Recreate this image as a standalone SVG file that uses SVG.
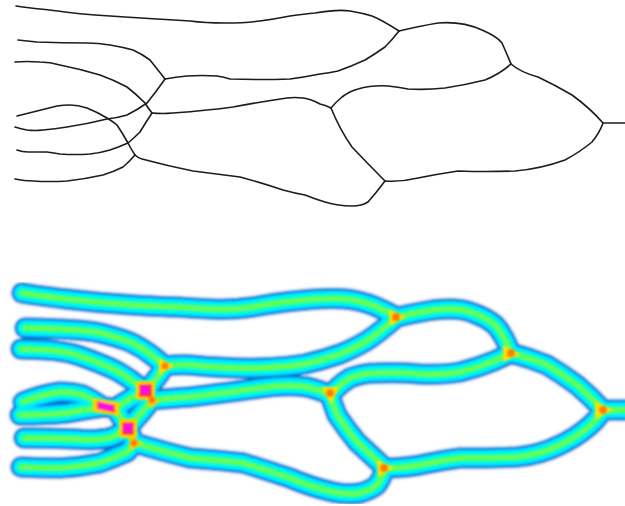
<svg xmlns="http://www.w3.org/2000/svg" width="625" height="506" viewBox="0 0 625 506">
<style>
.top{fill:none;stroke:#1c1c1c;stroke-width:1.6;stroke-linejoin:round;stroke-linecap:round}
#tubes{fill:none;stroke-linecap:round;stroke-linejoin:round}
.b0{stroke:#d4e6fa;stroke-width:25}
.b1{stroke:#0568c4;stroke-width:21}
.b2{stroke:#0096f2;stroke-width:18.5}
.b3{stroke:#00e8ff;stroke-width:15.5}
.b4{stroke:#00ffd8;stroke-width:10}
.b5{stroke:#20ff90;stroke-width:7}
.b6{stroke:#70ff40;stroke-width:3.4}
</style>
<defs>
<filter id="soft" x="-5%" y="-5%" width="110%" height="110%"><feGaussianBlur stdDeviation="1"/></filter>
<filter id="soft2" x="-50%" y="-50%" width="200%" height="200%"><feGaussianBlur stdDeviation="1"/></filter>
<path id="tubes" d="M22 293 Q33 295 66 299 Q100 303 133 305 Q167 307 178 307 Q190 308 211 309 Q233 310 253 307 Q273 303 305 300 Q337 297 353 300 Q370 303 383 310 L397 317
M25 328 Q83 329 100 333 Q117 337 130 342 Q143 348 154 357 L165 366
M21 349 Q60 349 80 356 Q100 363 115 370 Q130 378 145 391
M165 366 Q155 382 145 391 L152 400
M165 366 Q180 364 190 365 Q233 369 260 368 Q287 367 305 364 Q323 360 340 354 Q357 347 368 340 Q380 332 397 317
M152 400 Q175 398 190 397 Q233 392 260 388 Q287 384 307 387 Q320 390 330 395
M330 395 Q340 384 350 378 Q363 373 377 373 Q400 372 420 374 Q443 375 460 372 Q477 368 494 361 L511 353
M397 317 Q415 313 433 310 Q460 307 473 313 Q487 318 495 325 Q503 333 511 353
M511 353 Q530 358 547 365 Q562 374 577 385 Q590 396 603 410 L625 410
M603 410 Q597 420 587 428 Q575 438 560 445 Q540 455 517 457 Q488 458 460 458 Q445 460 430 463 Q408 468 385 468
M330 395 Q333 405 337 415 Q347 430 357 442 Q371 455 385 468
M23 402 Q40 395 60 392 Q72 392 83 395 Q92 399 103 407 L115 408
M20 415 Q45 415 67 413 Q82 410 103 407
M115 408 Q130 398 145 391
M115 408 Q121 418 128 428 L135 443
M152 400 Q140 415 128 428
M24 438 Q50 438 75 439 Q100 441 112 437 Q120 434 128 428
M135 443 Q165 452 190 458 Q217 460 243 463 Q266 470 290 478 Q311 487 333 492 Q347 495 360 493 Q371 490 377 485 Q382 478 385 468
M135 443 Q131 448 127 452 Q113 458 100 463 Q80 467 60 468 Q40 468 21 467"/>
</defs>
<rect width="625" height="506" fill="#ffffff"/>
<g id="connectors" class="top">
<path d="M16 6 Q30 8 40 9 Q50 10 65 12 Q80 14 95 15 Q110 16 125 17 Q140 18 157 19 Q175 20 190 21 Q205 23 225 23 Q245 23 260 21 Q275 19 290 16 Q305 14 315 13 Q338 9 350 11 Q362 13 372 16 Q382 20 399 31"/>
<path d="M399 31 Q420 26 438 23 Q462 21 482 30 Q498 37 502 43 Q506 52 511 64"/>
<path d="M511 64 Q520 72 538 77 Q555 85 572 95 Q590 108 603 123 L625 123"/>
<path d="M603 123 Q600 132 592 142 Q580 152 565 160 Q540 169 515 171 Q487 172 458 171 Q438 174 418 178 Q402 182 385 181"/>
<path d="M385 181 Q368 164 352 147 Q340 130 331 108"/>
<path d="M331 108 Q336 102 342 97 Q350 91 358 89 Q372 85 388 86 Q398 87 408 89 Q426 90 445 88 Q465 85 485 80 Q500 74 511 64"/>
<path d="M331 108 Q325 105 320 104 Q311 99 303 98 Q295 97 287 98 Q260 102 233 107 Q220 109 207 110 Q190 112 173 113 Q162 114 152 113"/>
<path d="M152 113 Q148 108 145 103 Q136 94 127 87 Q114 80 100 75 Q80 69 60 65 Q50 62 40 62 Q27 61 15 62"/>
<path d="M152 113 Q146 122 140 132 Q134 138 128 143 Q119 147 110 150 Q100 153 90 154 Q75 155 60 154 Q54 153 47 152 Q37 152 28 152 Q22 152 17 150"/>
<path d="M165 79 Q158 70 150 60 Q142 54 133 50 Q122 47 110 45 Q98 43 87 43 Q62 43 37 42 Q27 41 18 40"/>
<path d="M165 79 Q156 92 147 103 Q137 110 127 115 Q117 118 107 119 Q87 124 67 127 Q55 129 43 130 Q35 131 27 130 Q21 129 15 127"/>
<path d="M165 79 Q176 77 187 76 Q202 75 217 76 Q224 77 230 79 Q260 80 290 79 Q305 77 320 74 Q329 73 338 71 Q352 66 365 60 Q375 54 385 47 Q392 40 399 31"/>
<path d="M135 155 Q131 149 128 143 Q123 134 117 125 Q112 121 107 118 Q97 112 87 108 Q78 105 70 105 Q63 105 57 106 Q37 111 17 116"/>
<path d="M135 155 Q129 162 123 167 Q113 172 103 175 Q85 179 67 181 Q50 182 33 181 Q24 181 15 179"/>
<path d="M135 155 Q138 158 142 159 Q168 166 193 171 Q216 174 240 177 Q262 183 283 190 Q294 193 305 195 Q315 199 325 202 Q338 206 352 206 Q362 206 368 202 Q376 193 385 181"/>
</g>
<g id="heatmap">
<g filter="url(#soft)">
<use href="#tubes" class="b0" opacity="0.6"/>
<use href="#tubes" class="b1"/>
<use href="#tubes" class="b2"/>
<use href="#tubes" class="b3"/>
<use href="#tubes" class="b4"/>
<use href="#tubes" class="b5"/>
<use href="#tubes" class="b6"/>
</g>
<g id="junction-j1" filter="url(#soft2)"><path d="M389 309 L406 317 L390 326Z" fill="#ffe000"/><circle cx="396" cy="317" r="4" fill="#ff7a00"/></g>
<g id="junction-j2" filter="url(#soft2)"><path d="M503 345 L520 354 L503 362Z" fill="#ffe000"/><circle cx="511" cy="353" r="4" fill="#ff7a00"/></g>
<g id="junction-j3" filter="url(#soft2)"><path d="M595 401 L613 410 L595 419Z" fill="#ffe000"/><circle cx="603" cy="410" r="4" fill="#ff7a00"/></g>
<g id="junction-j4" filter="url(#soft2)"><path d="M377 460 L394 468 L378 477Z" fill="#ffe000"/><circle cx="384" cy="468" r="4" fill="#ff7a00"/></g>
<g id="junction-j5" filter="url(#soft2)"><path d="M321 387 L339 387 L331 404Z" fill="#ffe000"/><circle cx="330" cy="393" r="4" fill="#ff7a00"/></g>
<g id="junction-j7" filter="url(#soft2)"><path d="M159 358 L174 366 L159 375Z" fill="#ffe000"/><circle cx="165" cy="366" r="3.6" fill="#ff7a00"/></g>
<g id="junction-r1" filter="url(#soft2)"><rect x="136" y="381" width="19" height="19" rx="3" fill="#ffd000"/><path d="M146 395 L160 401 L150 409Z" fill="#ffd000"/><rect x="139" y="384" width="13" height="13" rx="2" fill="#ff2a2a"/><circle cx="152" cy="400" r="3.4" fill="#ff7a00"/><circle cx="145" cy="390" r="4.8" fill="#ff10e0"/></g>
<g id="junction-r2" filter="url(#soft2)"><rect x="119" y="419" width="18" height="19" rx="3" fill="#ffd000"/><path d="M129 436 L143 443 L130 451Z" fill="#ffd000"/><rect x="122" y="422" width="12" height="13" rx="2" fill="#ff2a2a"/><circle cx="134" cy="443" r="3.4" fill="#ff7a00"/><circle cx="128" cy="428" r="4.8" fill="#ff10e0"/></g>
<g id="junction-m" filter="url(#soft2)"><path d="M93 398 L119 402 L119 416 L93 412Z" fill="#ffd000"/><path d="M97 401 L115 405 L115 413 L97 409Z" fill="#ff2a2a"/><path d="M100 403 L112 406 L112 410 L100 408Z" fill="#ff10e0" stroke="#ff10e0" stroke-width="2"/></g>
</g>
</svg>
